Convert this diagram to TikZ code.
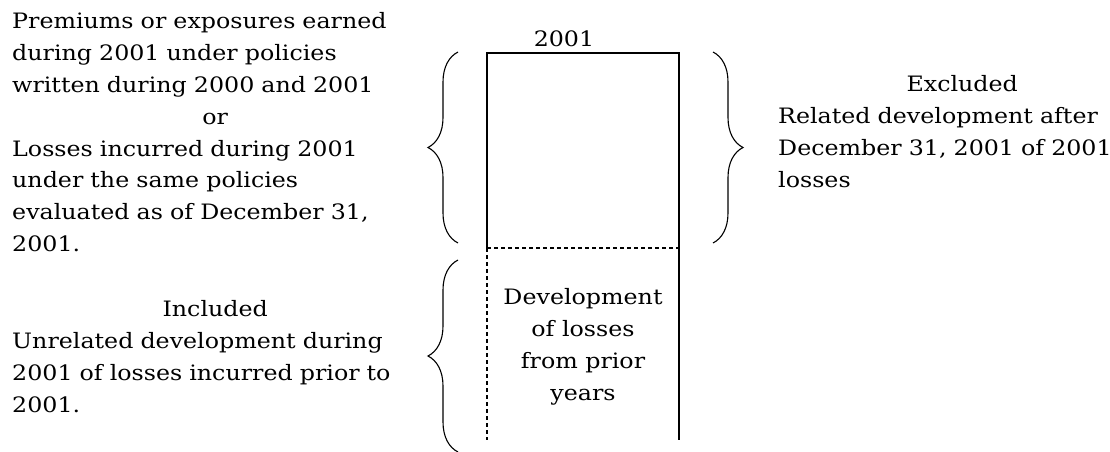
\documentclass[tikz,border=0pt]{standalone}
\usepackage{fontspec}
\setmainfont{DejaVu Serif}[FakeStretch=1.12]
\usetikzlibrary{decorations.pathreplacing}
\begin{document}
\begin{tikzpicture}[x=1pt,y=-1pt,
  txt/.style={inner sep=0pt,font=\fontsize{21.2}{31.8}\selectfont},
  box/.style={line width=1.5pt},
  dbox/.style={line width=1.5pt,dash pattern=on 4pt off 3pt},
  brc/.style={decorate,decoration={brace,amplitude=30pt,aspect=0.5},line width=1.1pt}]
\useasboundingbox (0,0) rectangle (1110,452);
% text blocks
\node[txt,anchor=north west,text width=406pt,align=left] (t1) at (12,12.5)
 {Premiums or exposures earned\\during 2001 under policies\\written during 2000 and 2001\\\makebox[\linewidth]{or}\\Losses incurred during 2001\\under the same policies\\evaluated as of December 31,\\2001.};
\node[txt,anchor=north west,text width=406pt,align=left] (t2) at (12,300.5)
 {\makebox[\linewidth]{Included}\\Unrelated development during\\2001 of losses incurred prior to\\2001.};
\node[txt,anchor=north west,text width=368pt,align=left] (t3) at (778,75.5)
 {\makebox[\linewidth]{Excluded}\\Related development after\\December 31, 2001 of 2001\\losses};
\node[txt,anchor=north,align=center] (t4) at (583,288.5)
 {Development\\of losses\\from prior\\years};
\node[txt,anchor=base] (yr) at (564,46.5) {2001};
% column
\coordinate (tl) at (487,53);
\coordinate (tr) at (679,53);
\coordinate (ml) at (487,248);
\coordinate (mr) at (679,248);
\coordinate (bl) at (487,440);
\coordinate (br) at (679,440);
\draw[box] (ml) -- (tl) -- (tr) -- (br);
\draw[dbox] (ml) -- (mr);
\draw[dbox] (ml) -- (bl);
% braces
\coordinate (b1a) at (458,243);
\coordinate (b1b) at (458,52);
\coordinate (b2a) at (458,452);
\coordinate (b2b) at (458,260);
\coordinate (b3a) at (713,52);
\coordinate (b3b) at (713,243);
\draw[brc] (b1a) -- (b1b);
\draw[brc] (b2a) -- (b2b);
\draw[brc] (b3a) -- (b3b);
\end{tikzpicture}
\end{document}
